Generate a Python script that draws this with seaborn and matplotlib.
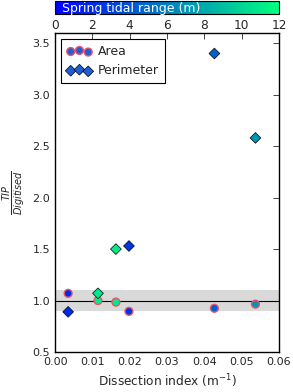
import matplotlib
matplotlib.use('Agg')
import matplotlib.pyplot as plt
import numpy as np
import pandas as pd
import seaborn as sns

# values
dissection = [0.0035, 0.0115, 0.0163, 0.0198, 0.0427, 0.0537]
tidal_range = [2.0, 11.0, 11.0, 2.5, 4.5, 7.0]
area_ratio = [1.07, 1.00, 0.985, 0.895, 0.925, 0.965]
perimeter_ratio = [0.89, 1.07, 1.50, 1.53, 3.40, 2.58]

df = pd.DataFrame({'dissection': dissection, 'tidal': tidal_range,
                   'area': area_ratio, 'perimeter': perimeter_ratio})

sns.set_style('white')
plt.rcParams.update({
    'font.family': ['DejaVu Sans'],
    'font.size': 8,
    'xtick.direction': 'in', 'ytick.direction': 'in',
    'xtick.top': True, 'ytick.right': True,
    'xtick.major.size': 4, 'ytick.major.size': 4,
    'xtick.major.width': 0.6, 'ytick.major.width': 0.6,
    'axes.edgecolor': 'black', 'axes.linewidth': 1.0,
    'xtick.labelsize': 8, 'ytick.labelsize': 8,
})

fig = plt.figure(figsize=(2.93, 3.92), dpi=100)
ax = fig.add_axes([0.188, 0.102, 0.764, 0.814])
cmap = plt.get_cmap('winter')
norm = plt.Normalize(0, 12)

ax.axhspan(0.9, 1.1, color='#d9d9d9', lw=0, zorder=0)
ax.axhline(1.0, color='black', lw=0.8, zorder=1)

sns.scatterplot(data=df, x='dissection', y='area', hue='tidal', palette=cmap,
                hue_norm=norm, marker='o', s=32, edgecolor='#e8556a',
                linewidth=1.0, legend=False, ax=ax, zorder=3)
sns.scatterplot(data=df, x='dissection', y='perimeter', hue='tidal', palette=cmap,
                hue_norm=norm, marker='D', s=30, edgecolor='black',
                linewidth=0.5, legend=False, ax=ax, zorder=3)

ax.set_xlim(0, 0.06)
ax.set_ylim(0.5, 3.6)
ax.set_xticks(np.arange(0, 0.061, 0.01))
ax.set_xticklabels(['%.2f' % t for t in np.arange(0, 0.061, 0.01)])
ax.set_yticks(np.arange(0.5, 3.6, 0.5))
ax.set_xlabel('Dissection index (m$^{-1}$)', fontsize=8.7)
ax.set_ylabel(r'$\frac{TIP}{Digitised}$', fontsize=10)

handles = ax.collections[-2:]
leg = ax.legend(handles, ['Area', 'Perimeter'], loc='upper left', scatterpoints=3,
                fontsize=9, fancybox=False, edgecolor='black', framealpha=1,
                borderpad=0.45, handletextpad=0.5, handlelength=2.0,
                borderaxespad=0.5)
leg.get_frame().set_linewidth(0.8)
for h in leg.legend_handles:
    h.set_facecolor('#1f5fd6')

cax = fig.add_axes([0.188, 0.964, 0.764, 0.033])
sm = matplotlib.cm.ScalarMappable(norm=norm, cmap=cmap)
cb = fig.colorbar(sm, cax=cax, orientation='horizontal', ticks=range(0, 13, 2))
cb.outline.set_linewidth(0.8)
cax.tick_params(direction='in', length=4, labelsize=8.7, top=False)
cax.text(0.03, 0.4, 'Spring tidal range (m)', color='white', fontsize=9,
         va='center', ha='left', transform=cax.transAxes)

fig.savefig('out.png', dpi=100, facecolor='white')
